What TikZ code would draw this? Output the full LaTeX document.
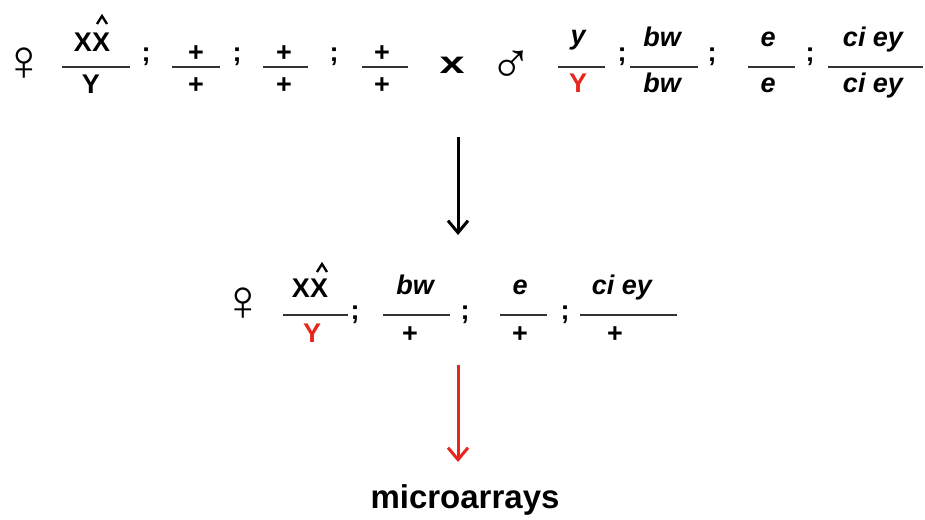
\documentclass[tikz,border=0pt]{standalone}
\usepackage{fontspec}
\setmainfont{Liberation Sans}
\usetikzlibrary{arrows.meta}
\definecolor{myred}{HTML}{E8261E}
\tikzset{
  txt/.style={font=\fontsize{27}{32}\selectfont\bfseries, inner sep=0pt, anchor=base},
  itx/.style={font=\fontsize{27}{32}\selectfont\bfseries\itshape, inner sep=0pt, anchor=base},
  redt/.style={txt, text=myred},
  semi/.style={txt},
  sexsym/.style={font=\fontsize{58}{64}\selectfont, inner sep=0pt, anchor=center},
  hatline/.style={line width=2.3pt, line join=miter},
  fbar/.style={line width=2.3pt, draw=black!80},
  arr/.style={line width=3pt, -{Straight Barb[length=12pt,width=20pt,line width=3pt]}},
}
\begin{document}
\begin{tikzpicture}[x=1pt,y=-1pt]
\useasboundingbox (0,0) rectangle (925,519);
% ---------- Row 1 ----------
\node[sexsym] (fem1) at (24,64) {♀};
\node[txt] (n1) at (92,52) {XX};
\draw[hatline] (97,24) -- (102,16) -- (107,24);
\node[txt] (d1) at (91,93) {Y};
\draw[fbar] (62,67) -- (130,67);
\node[semi] (s1) at (146,61) {;};
\node[txt] (n2) at (196,61) {+};
\node[txt] (d2) at (196,93) {+};
\draw[fbar] (172,67) -- (220,67);
\node[semi] (s2) at (237,61) {;};
\node[txt] (n3) at (284,61) {+};
\node[txt] (d3) at (284,93) {+};
\draw[fbar] (263,67) -- (308,67);
\node[semi] (s3) at (334,61) {;};
\node[txt] (n4) at (382,61) {+};
\node[txt] (d4) at (382,93) {+};
\draw[fbar] (362,67) -- (408,67);
\node[font=\fontsize{31}{36}\selectfont\bfseries, inner sep=0pt, anchor=center, xscale=1.45] (cross) at (452,65) {x};
\node[sexsym] (male1) at (511,67) {♂};
\node[itx] (n5) at (578,45) {y};
\node[redt] (d5) at (578,92) {Y};
\draw[fbar] (558,67) -- (605,67);
\node[semi] (s4) at (622,61) {;};
\node[itx] (n6) at (662,46) {bw};
\node[itx] (d6) at (662,92) {bw};
\draw[fbar] (630,67) -- (698,67);
\node[semi] (s5) at (712,61) {;};
\node[itx] (n7) at (768,46) {e};
\node[itx] (d7) at (768,92) {e};
\draw[fbar] (748,67) -- (795,67);
\node[semi] (s6) at (810,61) {;};
\node[itx] (n8) at (873,46) {ci ey};
\node[itx] (d8) at (873,92) {ci ey};
\draw[fbar] (828,67) -- (923,67);
% ---------- arrow 1 ----------
\coordinate (a1s) at (458,137);
\coordinate (a1e) at (458,235);
\draw[arr] (a1s) -- (a1e);
% ---------- Row 2 ----------
\node[sexsym] (fem2) at (243,304) {♀};
\node[txt] (m1) at (310,297) {XX};
\draw[hatline] (317,272) -- (322,264) -- (327,272);
\node[redt] (e1) at (312,342) {Y};
\draw[fbar] (283,315) -- (348,315);
\node[semi] (t1) at (355,319) {;};
\node[itx] (m2) at (415,294) {bw};
\node[txt] (e2) at (410,342) {+};
\draw[fbar] (383,315) -- (450,315);
\node[semi] (t2) at (465,319) {;};
\node[itx] (m3) at (520,294) {e};
\node[txt] (e3) at (520,342) {+};
\draw[fbar] (500,315) -- (547,315);
\node[semi] (t3) at (565,319) {;};
\node[itx] (m4) at (622,294) {ci ey};
\node[txt] (e4) at (615,342) {+};
\draw[fbar] (580,315) -- (677,315);
% ---------- arrow 2 ----------
\node[font=\fontsize{33}{38}\selectfont\bfseries, inner sep=0pt, anchor=base] (micro) at (465,508) {microarrays};
\coordinate (a2s) at (458,365);
\coordinate (a2e) at (458,462);
\draw[arr, draw=myred] (a2s) -- (a2e);
\end{tikzpicture}
\end{document}
